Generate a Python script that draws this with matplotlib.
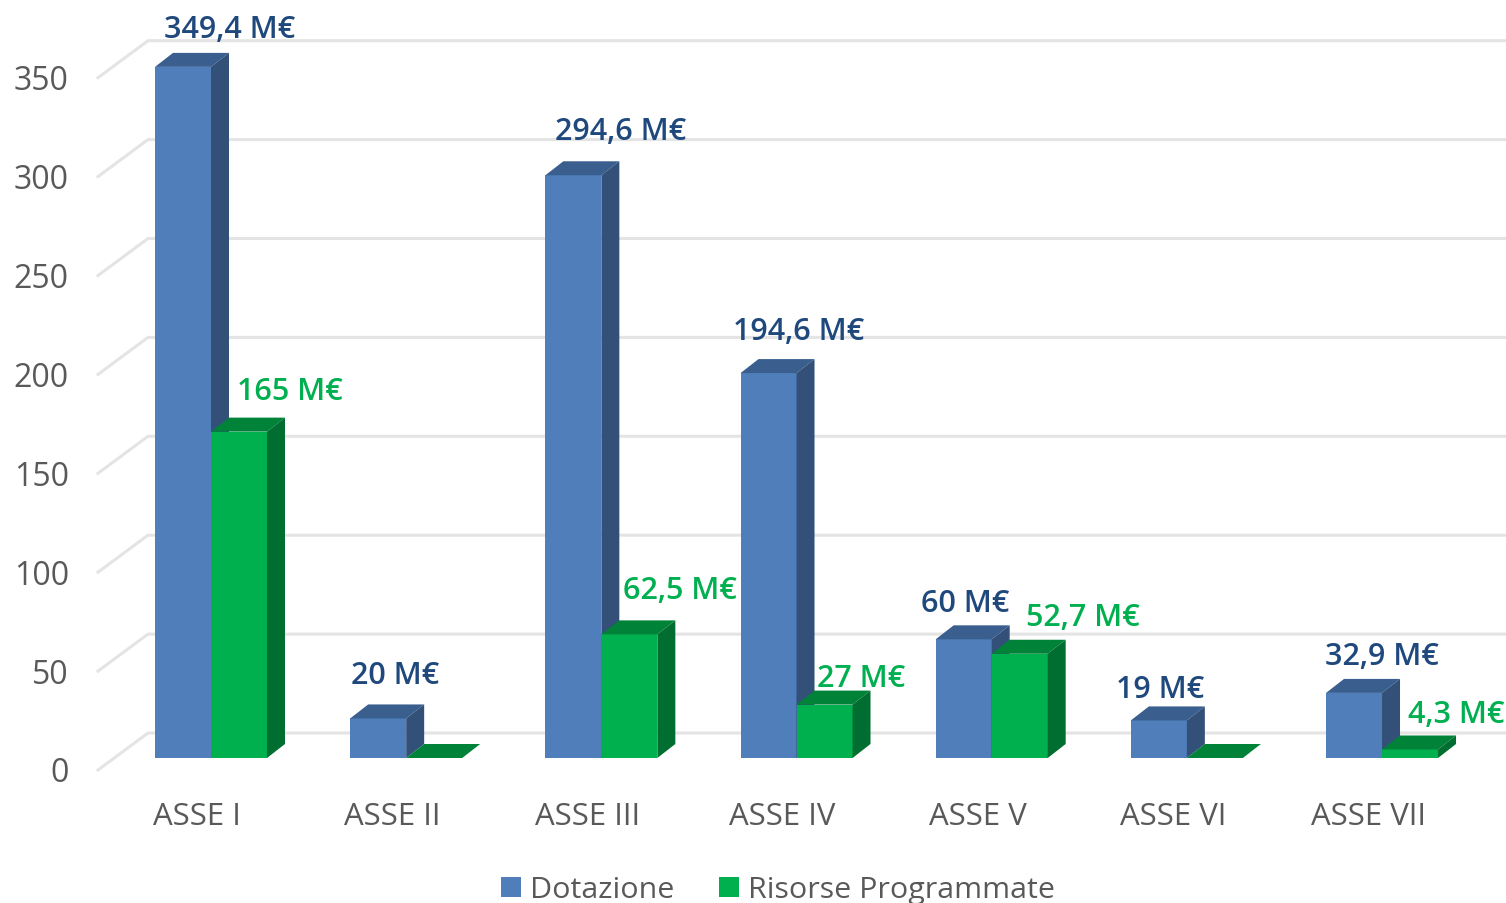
import matplotlib
matplotlib.use("Agg")
import matplotlib.pyplot as plt
from matplotlib.patches import Patch, Polygon
from matplotlib.transforms import ScaledTranslation

plt.rcParams["font.family"] = ["Open Sans", "DejaVu Sans"]

assi = ["ASSE I", "ASSE II", "ASSE III", "ASSE IV", "ASSE V", "ASSE VI", "ASSE VII"]
dotazione = [349.4, 20, 294.6, 194.6, 60, 19, 32.9]
programmate = [165, 0, 62.5, 27, 52.7, 0, 4.3]
lab_dotazione = ["349,4 M€", "20 M€", "294,6 M€", "194,6 M€", "60 M€", "19 M€", "32,9 M€"]
lab_programmate = ["165 M€", "", "62,5 M€", "27 M€", "52,7 M€", "", "4,3 M€"]
yticks = [0, 50, 100, 150, 200, 250, 300, 350]

# label offsets from bar centre/top, in pixels
off_dot = [(47, 38), (17, 43), (47, 44), (30, 42), (2, 36), (1, 31), (28, 37)]
off_prog = [(51, 41), (0, 0), (51, 44), (37, 27), (63, 37), (0, 0), (46, 35)]

W, H = 1506, 904
PX_X = 195.17   # pixels per category
PX_Y = 1.978    # pixels per unit
BAR_W = 56 / PX_X
DX = 18 / PX_X  # 3d depth
DY = 14 / PX_Y

BLUE = ("#4F7EBB", "#325078", "#3A5F8F")
GREEN = ("#00B04F", "#006E30", "#008238")
TXT_BLUE = "#1F497D"
TXT_GREEN = "#00B050"
GRAY = "#595959"
GRID = "#E4E4E4"


def bar3d(ax, xs, vals, cols):
    ax.bar(xs, vals, width=BAR_W, color=cols[0], align="edge", zorder=3)
    for x, v in zip(xs, vals):
        x1 = x + BAR_W
        top = [(x, v), (x + DX, v + DY), (x1 + DX, v + DY), (x1, v)]
        ax.add_patch(Polygon(top, closed=True, fc=cols[2], ec="none", zorder=3))
        if v > 0:
            side = [(x1, v), (x1 + DX, v + DY), (x1 + DX, DY), (x1, 0)]
            ax.add_patch(Polygon(side, closed=True, fc=cols[1], ec="none", zorder=3))


fig = plt.figure(figsize=(W / 100, H / 100), dpi=100)
left, right, bottom, top = 98, 1506, 770, 30
ax = fig.add_axes([left / W, 1 - bottom / H, (right - left) / W, (bottom - top) / H])
ax.set_xlim((left - 211) / PX_X, (right - 211) / PX_X)
ax.set_ylim((759 - bottom) / PX_Y, (759 - top) / PX_Y)
for s in ax.spines.values():
    s.set_visible(False)

# back wall grid + diagonal on the left side
gx0 = ax.get_xlim()[0]
gx1 = gx0 + 50 / PX_X
for v in yticks:
    gy = v + 25 / PX_Y
    ax.plot([gx0, gx1, ax.get_xlim()[1]], [gy - 37 / PX_Y, gy, gy],
            color=GRID, lw=2.2, zorder=1, solid_joinstyle="miter", clip_on=False)

pos = list(range(len(assi)))
bar3d(ax, [p - BAR_W for p in pos], dotazione, BLUE)
bar3d(ax, pos, programmate, GREEN)

for p, v, t, o in zip(pos, dotazione, lab_dotazione, off_dot):
    ax.annotate(t, (p - BAR_W / 2, v), xytext=o, textcoords="offset pixels", ha="center",
                va="center", color=TXT_BLUE, fontsize=22, fontweight="semibold", zorder=5)
for p, v, t, o in zip(pos, programmate, lab_programmate, off_prog):
    if t:
        ax.annotate(t, (p + BAR_W / 2, v), xytext=o, textcoords="offset pixels", ha="center",
                    va="center", color=TXT_GREEN, fontsize=22, fontweight="semibold", zorder=5)

ax.set_yticks(yticks)
ax.set_yticklabels([str(v) for v in yticks])
ax.set_xticks(pos)
ax.set_xticklabels(assi)
ax.tick_params(axis="y", length=0, pad=21, labelsize=23, labelcolor=GRAY)
ax.tick_params(axis="x", length=0, pad=23, labelsize=22.4, labelcolor=GRAY)
for lab in ax.get_yticklabels():
    lab.set_transform(lab.get_transform() + ScaledTranslation(0, -11 / 100, fig.dpi_scale_trans))
for lab in ax.get_xticklabels():
    lab.set_transform(lab.get_transform() + ScaledTranslation(-14 / 100, 0, fig.dpi_scale_trans))

handles = [Patch(fc=BLUE[0], label="Dotazione"), Patch(fc=GREEN[0], label="Risorse Programmate")]
fig.legend(handles=handles, loc="center", bbox_to_anchor=(778 / W, 1 - 891 / H), ncol=2,
           frameon=False, fontsize=21.9, labelcolor=GRAY, handlelength=0.66, handleheight=0.66,
           handletextpad=0.29, columnspacing=1.49, borderpad=0, borderaxespad=0)

fig.savefig("out.png", dpi=100)
